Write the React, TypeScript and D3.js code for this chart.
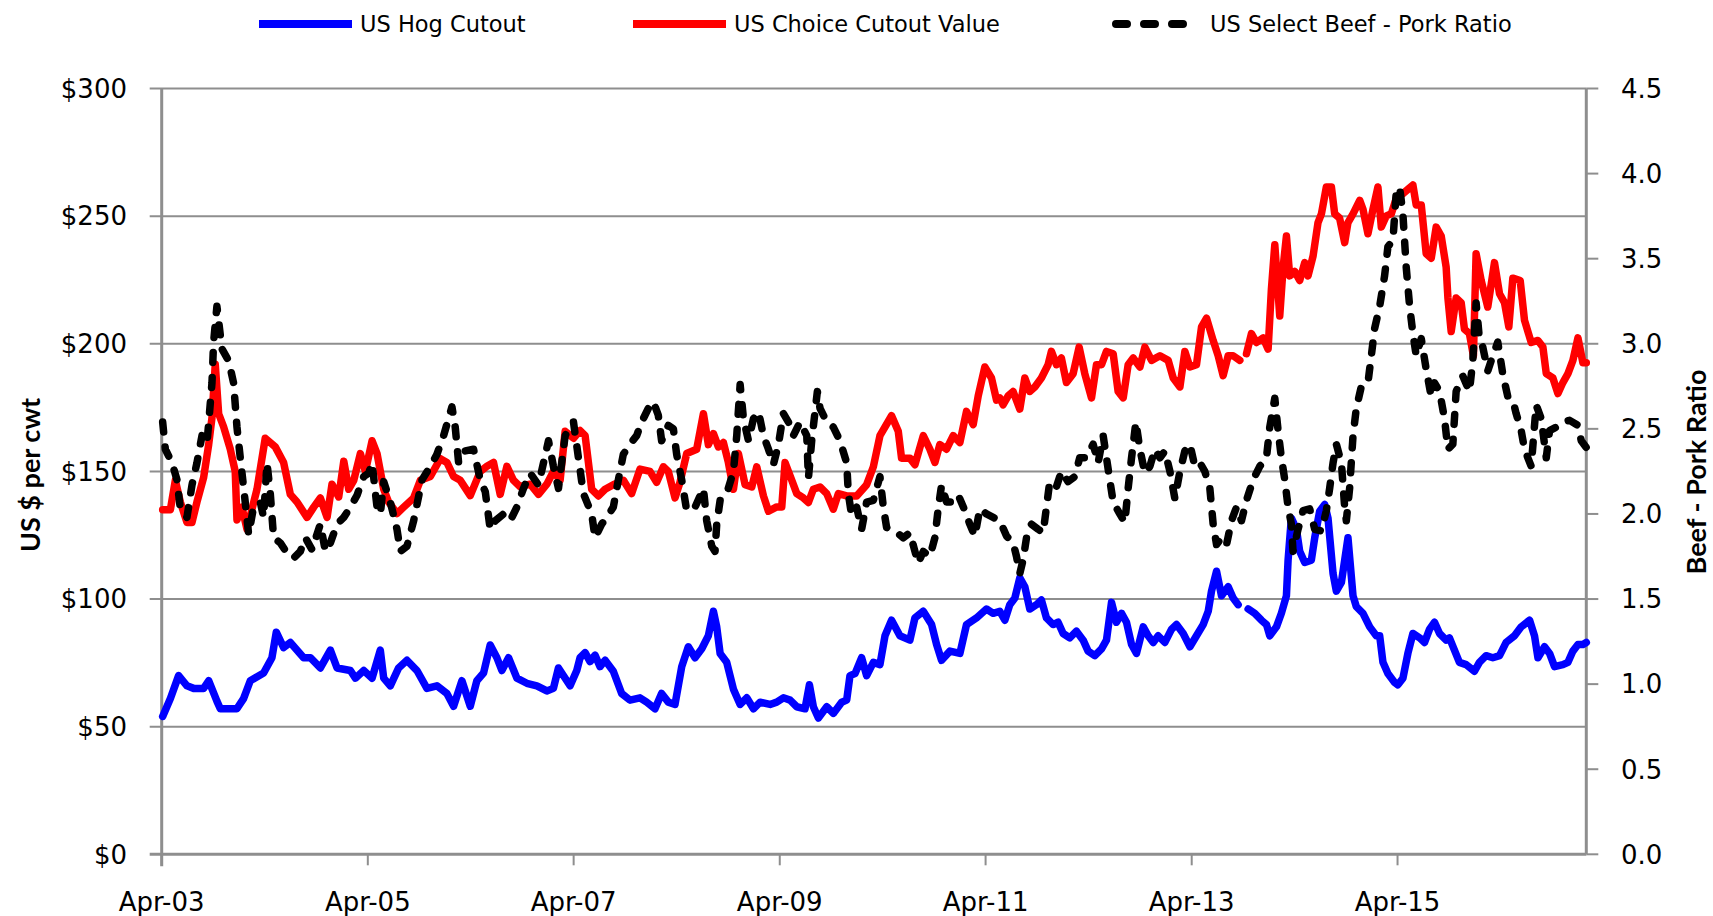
import React from 'react';
import * as d3 from 'd3';

// weekly series, x in decimal years
const hogYears = [
  2003.256, 2003.331, 2003.411, 2003.492, 2003.557, 2003.654, 2003.703, 2003.783, 2003.816, 2003.977,
  2004.042, 2004.107, 2004.236, 2004.317, 2004.359, 2004.430, 2004.495, 2004.624, 2004.689, 2004.786,
  2004.883, 2004.948, 2005.077, 2005.126, 2005.207, 2005.288, 2005.368, 2005.401, 2005.465, 2005.546,
  2005.627, 2005.724, 2005.821, 2005.918, 2006.015, 2006.080, 2006.161, 2006.242, 2006.306, 2006.371,
  2006.436, 2006.501, 2006.549, 2006.614, 2006.695, 2006.792, 2006.889, 2006.986, 2007.050, 2007.099,
  2007.212, 2007.277, 2007.309, 2007.358, 2007.406, 2007.455, 2007.503, 2007.552, 2007.632, 2007.713,
  2007.794, 2007.891, 2007.956, 2008.037, 2008.101, 2008.166, 2008.231, 2008.296, 2008.360, 2008.425,
  2008.490, 2008.554, 2008.603, 2008.635, 2008.668, 2008.732, 2008.797, 2008.862, 2008.926, 2008.991,
  2009.056, 2009.153, 2009.217, 2009.282, 2009.347, 2009.412, 2009.492, 2009.535, 2009.573, 2009.622,
  2009.703, 2009.767, 2009.848, 2009.897, 2009.929, 2009.978, 2010.042, 2010.091, 2010.156, 2010.220,
  2010.269, 2010.333, 2010.414, 2010.511, 2010.560, 2010.641, 2010.722, 2010.770, 2010.819, 2010.900,
  2010.997, 2011.061, 2011.158, 2011.255, 2011.320, 2011.385, 2011.434, 2011.482, 2011.531, 2011.579,
  2011.628, 2011.676, 2011.741, 2011.789, 2011.838, 2011.903, 2011.951, 2012.000, 2012.064, 2012.129,
  2012.194, 2012.242, 2012.307, 2012.372, 2012.420, 2012.469, 2012.517, 2012.566, 2012.614, 2012.663,
  2012.711, 2012.776, 2012.824, 2012.873, 2012.921, 2012.986, 2013.051, 2013.099, 2013.164, 2013.229,
  2013.293, 2013.358, 2013.407, 2013.439, 2013.488, 2013.536, 2013.601, 2013.649, 2013.698, 2013.740,
  2013.795, 2013.859, 2013.924, 2013.973, 2014.005, 2014.070, 2014.118, 2014.167, 2014.183, 2014.215,
  2014.264, 2014.296, 2014.345, 2014.409, 2014.442, 2014.490, 2014.539, 2014.571, 2014.620, 2014.652,
  2014.701, 2014.765, 2014.814, 2014.846, 2014.911, 2014.976, 2015.040, 2015.073, 2015.105, 2015.153,
  2015.218, 2015.250, 2015.299, 2015.347, 2015.396, 2015.461, 2015.509, 2015.558, 2015.606, 2015.655,
  2015.719, 2015.751, 2015.848, 2015.913, 2015.994, 2016.042, 2016.107, 2016.172, 2016.237, 2016.301,
  2016.382, 2016.447, 2016.528, 2016.576, 2016.609, 2016.673, 2016.722, 2016.770, 2016.851, 2016.900,
  2016.948, 2016.997, 2017.045, 2017.078,
];
const hogValues = [
  54, 61, 70, 66, 65, 65, 68, 60, 57, 57,
  61, 68, 71, 77, 87, 81, 83, 77, 77, 73,
  80, 73, 72, 69, 72, 69, 80, 69, 66, 73,
  76, 72, 65, 66, 63, 58, 68, 58, 68, 71,
  82, 77, 72, 77, 69, 67, 66, 64, 65, 73,
  66, 72, 77, 79, 75.5, 78, 73.5, 76, 71.7, 63,
  60.4, 61.3, 59.6, 57, 63, 59.6, 58.7, 73.5, 81.3, 77,
  80.5, 85.6, 95.2, 89.1, 78.7, 75.2, 64.7, 58.7, 61.3, 57,
  59.6, 58.7, 59.6, 61.3, 60.4, 57.8, 57, 66.4, 57.8, 53.4,
  57.8, 55.2, 59.6, 60.4, 70, 70.8, 77, 70, 75.2, 74.3,
  85.6, 91.7, 85.6, 83.9, 92.6, 95.2, 90, 82.2, 76, 79.6,
  78.7, 90, 92.6, 96.1, 94.4, 95.2, 91.7, 97.8, 100.4, 108.3,
  104.8, 96.1, 97.8, 99.6, 92.6, 90, 90.9, 86.5, 84.8, 87.4,
  83.9, 79.6, 77.8, 80.5, 83.9, 98.7, 90.9, 94.4, 90.9, 82.2,
  78.7, 89.1, 85.6, 83, 85.6, 83, 88.2, 90, 86.5, 81.3,
  85.6, 90, 95.2, 103.1, 110.9, 101.3, 104.8, 100.4, 97.8, null,
  96.1, 94.4, 91.7, 90, 85.6, 89.1, 94.4, 101.3, 115.2, 131.7,
  127.4, 118.7, 114.3, 115.2, 124, 134.4, 137, 131.7, 110, 103.1,
  106.5, 124, 101.3, 97, 94.4, 89.1, 85.6, 85.6, 75.2, 70.8,
  67.3, 66.4, 69, 78.7, 86.5, 84.8, 83, 88.2, 90.9, 86.5,
  83.9, 84.8, 75.2, 74.3, 71.7, 75.2, 77.8, 77, 77.8, 83,
  85.6, 89.1, 91.7, 85.6, 77, 81.3, 78.7, 73.5, 74.3, 75.2,
  79.6, 82.2, 82.2, 83,
];

const choiceYears = [
  2003.256, 2003.331, 2003.379, 2003.428, 2003.492, 2003.541, 2003.589, 2003.654, 2003.703, 2003.735,
  2003.767, 2003.800, 2003.848, 2003.913, 2003.961, 2003.978, 2004.026, 2004.075, 2004.172, 2004.252,
  2004.349, 2004.430, 2004.495, 2004.560, 2004.657, 2004.722, 2004.786, 2004.851, 2004.899, 2004.964,
  2005.013, 2005.061, 2005.110, 2005.174, 2005.223, 2005.288, 2005.336, 2005.401, 2005.449, 2005.530,
  2005.595, 2005.692, 2005.757, 2005.854, 2005.951, 2006.015, 2006.080, 2006.145, 2006.242, 2006.339,
  2006.404, 2006.468, 2006.533, 2006.598, 2006.662, 2006.727, 2006.824, 2006.905, 2006.986, 2007.050,
  2007.115, 2007.164, 2007.245, 2007.309, 2007.358, 2007.422, 2007.487, 2007.552, 2007.632, 2007.730,
  2007.810, 2007.891, 2007.988, 2008.053, 2008.118, 2008.166, 2008.231, 2008.279, 2008.344, 2008.441,
  2008.506, 2008.554, 2008.603, 2008.651, 2008.700, 2008.748, 2008.797, 2008.845, 2008.910, 2008.975,
  2009.023, 2009.088, 2009.137, 2009.217, 2009.266, 2009.298, 2009.347, 2009.412, 2009.476, 2009.525,
  2009.573, 2009.638, 2009.703, 2009.767, 2009.816, 2009.897, 2009.994, 2010.091, 2010.156, 2010.220,
  2010.333, 2010.398, 2010.430, 2010.511, 2010.560, 2010.641, 2010.705, 2010.754, 2010.802, 2010.867,
  2010.932, 2010.997, 2011.061, 2011.126, 2011.175, 2011.239, 2011.304, 2011.353, 2011.385, 2011.417,
  2011.466, 2011.514, 2011.579, 2011.628, 2011.676, 2011.725, 2011.789, 2011.854, 2011.886, 2011.935,
  2011.983, 2012.032, 2012.097, 2012.155, 2012.210, 2012.275, 2012.323, 2012.372, 2012.420, 2012.485,
  2012.533, 2012.582, 2012.630, 2012.679, 2012.744, 2012.792, 2012.857, 2012.938, 2013.018, 2013.067,
  2013.132, 2013.180, 2013.229, 2013.293, 2013.342, 2013.391, 2013.455, 2013.504, 2013.552, 2013.601,
  2013.649, 2013.714, 2013.746, 2013.779, 2013.827, 2013.876, 2013.941, 2013.989, 2014.021, 2014.054,
  2014.102, 2014.135, 2014.167, 2014.199, 2014.248, 2014.296, 2014.345, 2014.377, 2014.426, 2014.474,
  2014.507, 2014.555, 2014.604, 2014.636, 2014.684, 2014.733, 2014.765, 2014.814, 2014.879, 2014.911,
  2014.959, 2015.008, 2015.056, 2015.089, 2015.137, 2015.186, 2015.234, 2015.299, 2015.347, 2015.396,
  2015.428, 2015.477, 2015.525, 2015.574, 2015.622, 2015.671, 2015.719, 2015.736, 2015.768, 2015.816,
  2015.865, 2015.897, 2015.945, 2015.984, 2016.010, 2016.059, 2016.123, 2016.188, 2016.237, 2016.285,
  2016.327, 2016.366, 2016.437, 2016.479, 2016.544, 2016.609, 2016.657, 2016.690, 2016.754, 2016.803,
  2016.851, 2016.900, 2016.948, 2016.997, 2017.045, 2017.078,
];
const choiceValues = [
  135, 135, 146.5, 138, 130, 130, 138, 147.6, 160.5, 171,
  192, 172.6, 167.5, 158.7, 150, 131, 136, 127.4, 143, 163,
  159.6, 153.5, 141, 138, 132, 136, 139.6, 132, 145, 140,
  154, 143, 146.5, 157, 150, 162, 157, 143, 138, 133.5,
  136, 139.6, 146.5, 148, 155, 153.5, 148, 146.5, 140.5, 150,
  152, 153.5, 141, 152, 146.5, 144, 145, 141, 145, 150,
  146.5, 165.7, 163, 166, 164, 143, 140.4, 143, 144.8, 146.5,
  141.3, 150.9, 150, 145.7, 151.8, 150, 139.6, 145.7, 157, 158.7,
  172.6, 160.5, 164.8, 159.6, 161.3, 153.5, 143, 157, 144.8, 143.9,
  151.8, 140.4, 134.4, 136.1, 136.1, 153.5, 148.3, 141.3, 139.6, 137.8,
  143, 143.9, 141.3, 135.2, 141.3, 140.4, 140.4, 144.8, 151.8, 164,
  171.8, 165.7, 155.2, 155.2, 152.6, 164, 158.7, 153.5, 160.5, 158.7,
  164, 161.3, 173.5, 168.3, 179.6, 190.9, 186.6, 177.9, 178.8, 176.1,
  179.6, 181.3, 174.4, 186.6, 181.3, 183.1, 186.6, 191.8, 197, 191.8,
  194.4, 184.8, 188.3, 198.7, 188.3, 178.8, 191.8, 191.8, 197, 196.1,
  181.3, 178.8, 191.8, 194.4, 190.9, 198.7, 193.5, 195.3, 193.5, 186.6,
  183.1, 197, 190.9, 191.8, 206.6, 210, 201.3, 195.3, 187.5, 195.3,
  195.3, 193.5, null, 196.1, 204, 200.5, 202.3, 197.9, 221.4, 238.8,
  210.9, 230, 242.2, 226.6, 228.3, 224.8, 231.8, 226.6, 234.4, 247.5,
  250.9, 261.4, 261.4, 250.9, 249.2, 239.6, 247.5, 250.9, 256.2, 252.7,
  243.1, 252.7, 261.4, 245.7, 250.1, 250.9, 257, 258.8, 260.5, 262.2,
  254.4, 254.4, 235.3, 233.5, 245.7, 242.2, 230, 218, 204.8, 217.9,
  216.1, 205.7, 204, 195.3, 235.3, 224.8, 214.4, 231.8, 219.6, 216.1,
  206.6, 225.7, 224.8, 209.2, 200.5, 201.3, 198.7, 188.3, 186.6, 180.5,
  184.8, 188.3, 193.5, 202.3, 192.6, 192.6,
];

const ratioYears = [
  2003.256, 2003.282, 2003.347, 2003.395, 2003.428, 2003.492, 2003.541, 2003.589, 2003.638, 2003.686,
  2003.735, 2003.751, 2003.783, 2003.832, 2003.897, 2003.945, 2003.978, 2004.010, 2004.058, 2004.091,
  2004.139, 2004.204, 2004.236, 2004.269, 2004.301, 2004.333, 2004.398, 2004.463, 2004.527, 2004.592,
  2004.641, 2004.705, 2004.786, 2004.835, 2004.883, 2004.948, 2005.013, 2005.077, 2005.142, 2005.207,
  2005.255, 2005.288, 2005.336, 2005.368, 2005.401, 2005.465, 2005.530, 2005.563, 2005.627, 2005.692,
  2005.773, 2005.854, 2005.918, 2005.983, 2006.064, 2006.096, 2006.129, 2006.193, 2006.274, 2006.339,
  2006.388, 2006.436, 2006.485, 2006.565, 2006.630, 2006.695, 2006.759, 2006.824, 2006.905, 2007.002,
  2007.050, 2007.099, 2007.164, 2007.245, 2007.293, 2007.341, 2007.422, 2007.455, 2007.519, 2007.568,
  2007.632, 2007.681, 2007.729, 2007.794, 2007.859, 2007.907, 2007.972, 2008.021, 2008.069, 2008.101,
  2008.166, 2008.215, 2008.247, 2008.296, 2008.344, 2008.425, 2008.506, 2008.538, 2008.587, 2008.619,
  2008.635, 2008.668, 2008.732, 2008.797, 2008.829, 2008.862, 2008.894, 2008.943, 2008.991, 2009.040,
  2009.088, 2009.137, 2009.185, 2009.234, 2009.282, 2009.331, 2009.379, 2009.444, 2009.509, 2009.525,
  2009.557, 2009.612, 2009.638, 2009.703, 2009.767, 2009.832, 2009.897, 2009.913, 2009.945, 2009.994,
  2010.042, 2010.091, 2010.156, 2010.220, 2010.253, 2010.285, 2010.366, 2010.447, 2010.511, 2010.560,
  2010.592, 2010.641, 2010.705, 2010.754, 2010.786, 2010.819, 2010.867, 2010.932, 2010.981, 2011.045,
  2011.093, 2011.142, 2011.191, 2011.255, 2011.320, 2011.385, 2011.450, 2011.514, 2011.547, 2011.579,
  2011.611, 2011.644, 2011.692, 2011.757, 2011.806, 2011.838, 2011.870, 2011.935, 2011.983, 2012.048,
  2012.113, 2012.161, 2012.226, 2012.291, 2012.339, 2012.388, 2012.420, 2012.452, 2012.485, 2012.549,
  2012.598, 2012.630, 2012.663, 2012.705, 2012.744, 2012.792, 2012.841, 2012.889, 2012.938, 2012.986,
  2013.035, 2013.083, 2013.132, 2013.180, 2013.229, 2013.277, 2013.326, 2013.374, 2013.423, 2013.455,
  2013.488, 2013.536, 2013.585, 2013.633, 2013.682, 2013.730, 2013.779, 2013.843, 2013.908, 2013.973,
  2014.005, 2014.054, 2014.086, 2014.118, 2014.151, 2014.183, 2014.215, 2014.231, 2014.280, 2014.329,
  2014.393, 2014.442, 2014.507, 2014.555, 2014.587, 2014.620, 2014.652, 2014.701, 2014.733, 2014.749,
  2014.781, 2014.814, 2014.846, 2014.895, 2014.959, 2014.992, 2015.024, 2015.073, 2015.121, 2015.153,
  2015.202, 2015.234, 2015.267, 2015.299, 2015.331, 2015.364, 2015.396, 2015.428, 2015.477, 2015.525,
  2015.574, 2015.606, 2015.655, 2015.703, 2015.736, 2015.784, 2015.816, 2015.881, 2015.945, 2015.978,
  2016.010, 2016.042, 2016.075, 2016.123, 2016.172, 2016.220, 2016.269, 2016.317, 2016.366, 2016.398,
  2016.447, 2016.479, 2016.544, 2016.592, 2016.641, 2016.690, 2016.722, 2016.787, 2016.851, 2016.916,
  2016.997, 2017.029, 2017.078,
];
const ratioValues = [
  2.54, 2.38, 2.30, 2.20, 2.03, 1.98, 2.17, 2.30, 2.46, 2.41,
  2.77, 3.01, 3.22, 2.97, 2.90, 2.77, 2.51, 2.33, 2.07, 1.88,
  2.04, 2.07, 1.98, 2.30, 2.12, 1.86, 1.83, 1.77, 1.74, 1.78,
  1.86, 1.79, 1.94, 1.78, 1.83, 1.94, 1.98, 2.04, 2.11, 2.22,
  2.24, 2.30, 2.04, 2.00, 2.19, 2.07, 1.91, 1.78, 1.81, 1.96,
  2.20, 2.28, 2.35, 2.46, 2.63, 2.51, 2.30, 2.37, 2.38, 2.20,
  2.13, 1.91, 1.96, 2.00, 1.96, 2.04, 2.15, 2.24, 2.17, 2.43,
  2.28, 2.15, 2.46, 2.54, 2.33, 2.12, 2.00, 1.86, 1.94, 1.98,
  2.04, 2.20, 2.35, 2.41, 2.46, 2.54, 2.62, 2.66, 2.58, 2.43,
  2.52, 2.50, 2.35, 2.20, 2.02, 2.04, 2.15, 1.96, 1.81, 1.78,
  1.94, 2.08, 2.12, 2.25, 2.46, 2.76, 2.56, 2.43, 2.56, 2.60,
  2.46, 2.38, 2.29, 2.41, 2.59, 2.54, 2.46, 2.54, 2.46, 2.21,
  2.43, 2.72, 2.62, 2.54, 2.51, 2.43, 2.30, 2.12, 1.99, 2.04,
  1.91, 2.07, 2.08, 2.22, 2.04, 1.92, 1.90, 1.86, 1.89, 1.78,
  1.71, 1.78, 1.75, 1.86, 2.03, 2.17, 2.07, 2.07, 2.11, 2.02,
  1.94, 1.87, 2.03, 2.00, 1.98, 1.96, 1.87, 1.83, 1.75, 1.65,
  1.73, 1.86, 1.94, 1.91, 1.89, 2.04, 2.19, 2.16, 2.25, 2.19,
  2.22, 2.33, 2.33, 2.41, 2.30, 2.46, 2.33, 2.20, 2.07, 2.00,
  1.95, 2.15, 2.33, 2.54, 2.38, 2.24, 2.28, 2.38, 2.33, 2.37,
  2.25, 2.09, 2.25, 2.37, 2.41, 2.28, 2.30, 2.25, 2.15, 1.94,
  1.82, 1.86, 1.82, 1.96, 2.04, 1.96, 2.08, 2.20, 2.28, 2.33,
  2.51, 2.68, 2.49, 2.33, 2.20, 2.04, 1.94, 1.78, 1.91, 2.02,
  2.03, 1.91, 1.90, 2.02, 2.15, 2.30, 2.41, 2.30, 2.04, 1.96,
  2.15, 2.46, 2.62, 2.75, 2.77, 2.93, 3.09, 3.22, 3.40, 3.57,
  3.61, 3.89, 3.92, 3.76, 3.45, 3.22, 3.06, 2.93, 3.03, 2.85,
  2.69, 2.77, 2.72, 2.56, 2.38, 2.41, 2.72, 2.81, 2.72, 2.90,
  3.24, 3.03, 2.98, 2.84, 2.93, 3.01, 2.82, 2.69, 2.67, 2.59,
  2.49, 2.38, 2.28, 2.64, 2.56, 2.33, 2.49, 2.51, 2.54, 2.55,
  2.52, 2.43, 2.39,
];

const dollarTicks = [0, 50, 100, 150, 200, 250, 300];
const ratioTicks = [0, 0.5, 1, 1.5, 2, 2.5, 3, 3.5, 4, 4.5];
const dateTicks = ['2003-04-01', '2005-04-01', '2007-04-01', '2009-04-01', '2011-04-01', '2013-04-01', '2015-04-01'];

const legendItems = [
  { label: 'US Hog Cutout', color: '#0000ff', dashed: false, x: 259 },
  { label: 'US Choice Cutout Value', color: '#ff0000', dashed: false, x: 633 },
  { label: 'US Select Beef - Pork Ratio', color: '#000000', dashed: true, x: 1112 },
];

const W = 1713;
const H = 916;
const margin = { top: 88.5, right: 1713 - 1586.3, bottom: 916 - 854.3, left: 161.7 };
const gridColor = '#8e8e8e';
const tickFont = 'DejaVu Sans, Verdana, sans-serif';
const lineWidth = 7.5;

// decimal year -> Date
const toDate = (y: number) => {
  const yr = Math.floor(y);
  const a = Date.UTC(yr, 0, 1);
  const b = Date.UTC(yr + 1, 0, 1);
  return new Date(a + (y - yr) * (b - a));
};

const zip = (xs: number[], ys: (number | null)[]) => xs.map((x, i) => ({ date: toDate(x), value: ys[i] }));

const App = () => {
  const x = d3.scaleUtc()
    .domain([new Date(Date.UTC(2003, 3, 1)), toDate(2017.078)])
    .range([margin.left, W - margin.right]);
  const yLeft = d3.scaleLinear().domain([0, 300]).range([H - margin.bottom, margin.top]);
  const yRight = d3.scaleLinear().domain([0, 4.5]).range([H - margin.bottom, margin.top]);

  const leftLine = d3.line<{ date: Date; value: number | null }>()
    .defined((d) => d.value != null)
    .x((d) => x(d.date))
    .y((d) => yLeft(d.value as number));
  const rightLine = d3.line<{ date: Date; value: number | null }>()
    .defined((d) => d.value != null)
    .x((d) => x(d.date))
    .y((d) => yRight(d.value as number));

  const hog = zip(hogYears, hogValues);
  const choice = zip(choiceYears, choiceValues);
  const ratio = zip(ratioYears, ratioValues);

  const x0 = margin.left;
  const x1 = W - margin.right;
  const yBottom = H - margin.bottom;
  const fmtDate = d3.utcFormat('%b-%y');

  return (
    <svg width={W} height={H} style={{ position: 'absolute', left: 0, top: 0, display: 'block', background: '#fff' }}>
      {/* horizontal gridlines from the dollar axis */}
      {dollarTicks.filter((t) => t > 0).map((t) => (
        <line key={`g${t}`} x1={x0 - 12} x2={x1} y1={yLeft(t)} y2={yLeft(t)} stroke={gridColor} strokeWidth={2} />
      ))}

      {/* left axis */}
      <line x1={x0} x2={x0} y1={margin.top} y2={yBottom + 12} stroke={gridColor} strokeWidth={3} />
      {dollarTicks.map((t) => (
        <text key={`l${t}`} x={127} y={yLeft(t)} dy="0.36em" textAnchor="end"
          fontFamily={tickFont} fontSize={26} fill="#000">
          {`$${t}`}
        </text>
      ))}

      {/* right axis */}
      <line x1={x1} x2={x1} y1={margin.top} y2={yBottom} stroke={gridColor} strokeWidth={3} />
      {ratioTicks.map((t) => (
        <g key={`r${t}`}>
          <line x1={x1} x2={x1 + 12} y1={yRight(t)} y2={yRight(t)} stroke={gridColor} strokeWidth={2} />
          <text x={1621} y={yRight(t)} dy="0.36em" textAnchor="start"
            fontFamily={tickFont} fontSize={26} fill="#000">
            {t.toFixed(1)}
          </text>
        </g>
      ))}

      {/* bottom axis */}
      <line x1={x0 - 12} x2={x1} y1={yBottom} y2={yBottom} stroke={gridColor} strokeWidth={3} />
      {dateTicks.map((s) => {
        const d = new Date(s + 'T00:00:00Z');
        return (
          <g key={s}>
            <line x1={x(d)} x2={x(d)} y1={yBottom} y2={yBottom + 11} stroke={gridColor} strokeWidth={2} />
            <text x={x(d)} y={911} textAnchor="middle" fontFamily={tickFont} fontSize={26} fill="#000">
              {fmtDate(d)}
            </text>
          </g>
        );
      })}

      {/* series */}
      <path d={leftLine(hog) || ''} fill="none" stroke="#0000ff" strokeWidth={lineWidth} strokeLinejoin="round" strokeLinecap="round" />
      <path d={leftLine(choice) || ''} fill="none" stroke="#ff0000" strokeWidth={lineWidth} strokeLinejoin="round" strokeLinecap="round" />
      <path d={rightLine(ratio) || ''} fill="none" stroke="#000" strokeWidth={lineWidth} strokeLinejoin="round"
        strokeLinecap="round" strokeDasharray="10 15" />

      {/* axis titles */}
      <text transform={`translate(40,${475}) rotate(-90)`} textAnchor="middle"
        fontFamily="Lato, sans-serif" fontWeight="bold" fontSize={27} fill="#000">
        US $ per cwt
      </text>
      <text transform={`translate(1706,${472}) rotate(-90)`} textAnchor="middle"
        fontFamily="Lato, sans-serif" fontWeight="bold" fontSize={27} fill="#000">
        Beef - Pork Ratio
      </text>

      {/* legend */}
      {legendItems.map((it) => (
        <g key={it.label}>
          {it.dashed ? (
            <line x1={it.x + 4} x2={it.x + 76} y1={24} y2={24} stroke={it.color} strokeWidth={8}
              strokeLinecap="round" strokeDasharray="11 17" />
          ) : (
            <line x1={it.x} x2={it.x + 93} y1={24} y2={24} stroke={it.color} strokeWidth={8} />
          )}
          <text x={it.x + (it.dashed ? 98 : 101)} y={24} dy="0.36em" fontFamily={tickFont} fontSize={22.5} fill="#000">
            {it.label}
          </text>
        </g>
      ))}
    </svg>
  );
};

export default App;
